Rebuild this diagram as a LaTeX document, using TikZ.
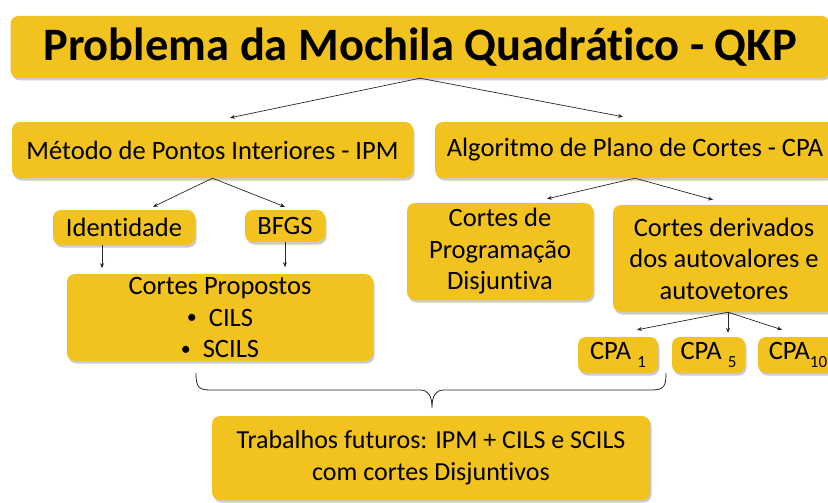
\documentclass[tikz,border=0pt]{standalone}
\usepackage{fontspec}
\setmainfont[Ligatures={NoCommon,NoContextual}]{Carlito}
\usetikzlibrary{arrows.meta,shadows}
\definecolor{boxyellow}{RGB}{242,195,30}
\tikzset{
  box/.style={fill=boxyellow, rounded corners=8pt, inner sep=0pt, align=center,
    drop shadow={shadow xshift=1.5pt, shadow yshift=-2.5pt, fill=black!45, opacity=0.45}},
  txt/.style={font=\fontsize{26.5}{31.5}\selectfont},
  arr/.style={draw=black!85, line width=0.7pt, -{Stealth[length=5pt,width=4pt]}},
  bracepath/.style={draw=black!85, line width=0.8pt}
}
\newcommand{\subnum}[1]{\raisebox{-0.3em}{\fontsize{17}{17}\selectfont #1}}
\newcommand{\smallbul}{\raisebox{0.08em}{\fontsize{20}{20}\selectfont\textbullet}}
\begin{document}
\begin{tikzpicture}[x=1pt,y=-1pt]
\useasboundingbox (0,0) rectangle (828,503);
\clip (0,0) rectangle (828,503);
\node[box, minimum width=819, minimum height=62, font=\bfseries\fontsize{46.5}{52}\selectfont] (title) at (420,47) {Problema da Mochila Quadrático - QKP};
\node[box, txt, minimum width=401, minimum height=56] (ipm) at (212.5,150) {Método de Pontos Interiores - IPM};
\node[box, txt, minimum width=400, minimum height=56] (cpa) at (635,150) {Algoritmo de Plano de Cortes - CPA};
\node[box, txt, minimum width=142, minimum height=35] (ident) at (124,227.5) {Identidade};
\node[box, txt, minimum width=80, minimum height=32] (bfgs) at (285,226) {BFGS};
\node[box, txt, minimum width=306, minimum height=87] (props) at (220,317.5) {Cortes Propostos\\\smallbul\ \ CILS\\\smallbul\ \ SCILS};
\node[box, txt, minimum width=186, minimum height=97] (disj) at (500,251.5) {Cortes de\\Programação\\Disjuntiva};
\node[box, txt, minimum width=222, minimum height=107] (deriv) at (724,258.5) {Cortes derivados\\dos autovalores e\\autovetores};
\node[box, txt, minimum width=80, minimum height=36] (cpa1) at (618,355) {CPA \subnum{1}};
\node[box, txt, minimum width=73, minimum height=36] (cpa5) at (708.5,355) {CPA \subnum{5}};
\node[box, txt, minimum width=80, minimum height=36] (cpa10) at (798,355) {CPA\subnum{10}};
\node[box, font=\fontsize{26}{32}\selectfont, minimum width=438, minimum height=84] (fut) at (431,458) {Trabalhos futuros: IPM + CILS e SCILS\\com cortes Disjuntivos};
% connectors
\draw[arr] (title.south) -- ([xshift=17.5pt,yshift=4pt]ipm.north);
\draw[arr] (title.south) -- ([xshift=-12pt,yshift=5pt]cpa.north);
\draw[arr] (ipm.south) -- ([xshift=29pt,yshift=3pt]ident.north);
\draw[arr] (ipm.south) -- ([yshift=3pt]bfgs.north);
\draw[arr] ([xshift=-22pt]ident.south) -- ++(0,-23pt);
\draw[arr] (bfgs.south) -- ++(0,-25pt);
\draw[arr] (cpa.south) -- ([xshift=47pt,yshift=4pt]disj.north);
\draw[arr] (cpa.south) -- ([xshift=-11pt,yshift=5pt]deriv.north);
\draw[arr] ([xshift=4pt]deriv.south) -- ([xshift=19pt,yshift=7pt]cpa1.north);
\draw[arr] ([xshift=4pt]deriv.south) -- ([xshift=19.5pt,yshift=4pt]cpa5.north);
\draw[arr] ([xshift=4pt]deriv.south) -- ([xshift=-16pt,yshift=7pt]cpa10.north);
% brace
\coordinate (bl) at (196,373);
\coordinate (br) at (666,373);
\coordinate (bt) at (432,408);
\draw[bracepath] (bl) .. controls (196,386) and (198,390) .. (210,390) -- (420,390)
  .. controls (428,390) and (432,395) .. (bt)
  .. controls (432,395) and (436,390) .. (444,390) -- (652,390)
  .. controls (664,390) and (666,386) .. (br);
\end{tikzpicture}
\end{document}
